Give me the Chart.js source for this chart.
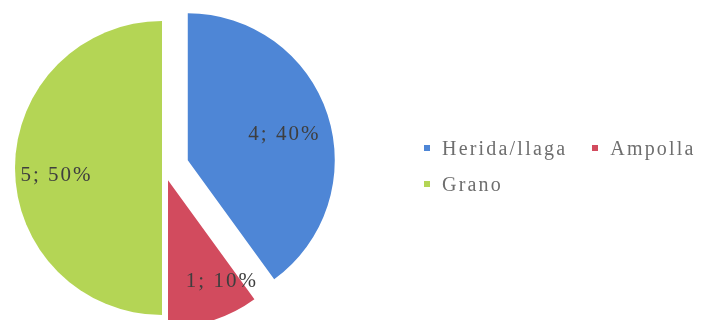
<!DOCTYPE html>
<html lang="es">
<head>
  <meta charset="UTF-8" />
  <title>Lesiones</title>
  <script src="https://cdn.jsdelivr.net/npm/chart.js"></script>
  <style>
    html, body { margin: 0; padding: 0; background: #fff; }
    #wrap { position: relative; width: 708px; height: 320px; overflow: hidden; }
    #legend {
      position: absolute; left: 424px; top: 130px; width: 284px;
      display: flex; flex-wrap: wrap; column-gap: 25px;
      font-family: "Liberation Serif", "DejaVu Serif", serif;
      font-size: 20px; letter-spacing: 2.2px; line-height: 36px; color: #6e6e6e;
    }
    #legend span.item { display: flex; align-items: center; white-space: nowrap; }
    #legend i { display: inline-block; width: 6px; height: 6px; margin-right: 12px; }
  </style>
</head>
<body>
  <div id="wrap">
    <canvas id="pie" width="708" height="320"></canvas>
    <div id="legend"></div>
  </div>

  <script>
    // datos
    const categorias = ['Herida/llaga', 'Ampolla', 'Grano'];
    const valores = [4, 1, 5];
    const colores = ['#4E86D6', '#D24B5E', '#B4D555'];
    // separación de cada porción respecto al centro (px)
    const separacion = [25, 13, 2];

    // tarta con porciones desplazadas sin agrandar el radio
    class ExplodedPieController extends Chart.PieController {
      draw() {
        const ctx = this.chart.ctx;
        const shift = this.getDataset().explode || [];
        this._cachedMeta.data.forEach((arc, i) => {
          const mid = (arc.startAngle + arc.endAngle) / 2;
          const d = shift[i] || 0;
          ctx.save();
          ctx.translate(Math.cos(mid) * d, Math.sin(mid) * d);
          arc.draw(ctx);
          ctx.restore();
        });
      }
    }
    ExplodedPieController.id = 'explodedPie';
    Chart.register(ExplodedPieController);

    // etiquetas "valor; porcentaje" dentro de cada porción
    const etiquetas = {
      id: 'etiquetas',
      afterDatasetsDraw(chart, args, opts) {
        const ctx = chart.ctx;
        const ds = chart.data.datasets[0];
        const total = ds.data.reduce((a, b) => a + b, 0);
        chart.getDatasetMeta(0).data.forEach((arc, i) => {
          const mid = (arc.startAngle + arc.endAngle) / 2;
          const d = ds.explode[i] || 0;
          const p = opts.place[i];
          const a = mid + p.turn * Math.PI / 180;
          const x = arc.x + Math.cos(mid) * d + Math.cos(a) * arc.outerRadius * p.r;
          const y = arc.y + Math.sin(mid) * d + Math.sin(a) * arc.outerRadius * p.r;
          ctx.save();
          ctx.font = '21px "Liberation Serif", serif';
          ctx.letterSpacing = '2px';
          ctx.fillStyle = '#3e3e3e';
          ctx.textAlign = 'center';
          ctx.textBaseline = 'middle';
          const pct = Math.round(ds.data[i] / total * 100);
          ctx.fillText(ds.data[i] + '; ' + pct + '%', x, y);
          ctx.restore();
        });
      }
    };

    new Chart(document.getElementById('pie'), {
      type: 'explodedPie',
      data: {
        labels: categorias,
        datasets: [{
          data: valores,
          backgroundColor: colores,
          explode: separacion,
          radius: 147,
          borderWidth: 0
        }]
      },
      options: {
        responsive: false,
        animation: false,
        layout: { padding: { left: 0, right: 380, top: 16, bottom: 0 } },
        plugins: {
          legend: { display: false },
          tooltip: { enabled: false },
          etiquetas: {
            place: [
              { r: 0.68, turn: 3 },
              { r: 0.78, turn: -10 },
              { r: 0.72, turn: -4 }
            ]
          }
        }
      },
      plugins: [etiquetas]
    });

    // leyenda
    const legend = document.getElementById('legend');
    categorias.forEach((c, i) => {
      const item = document.createElement('span');
      item.className = 'item';
      const mark = document.createElement('i');
      mark.style.background = colores[i];
      item.appendChild(mark);
      item.appendChild(document.createTextNode(c));
      legend.appendChild(item);
    });
  </script>
</body>
</html>
